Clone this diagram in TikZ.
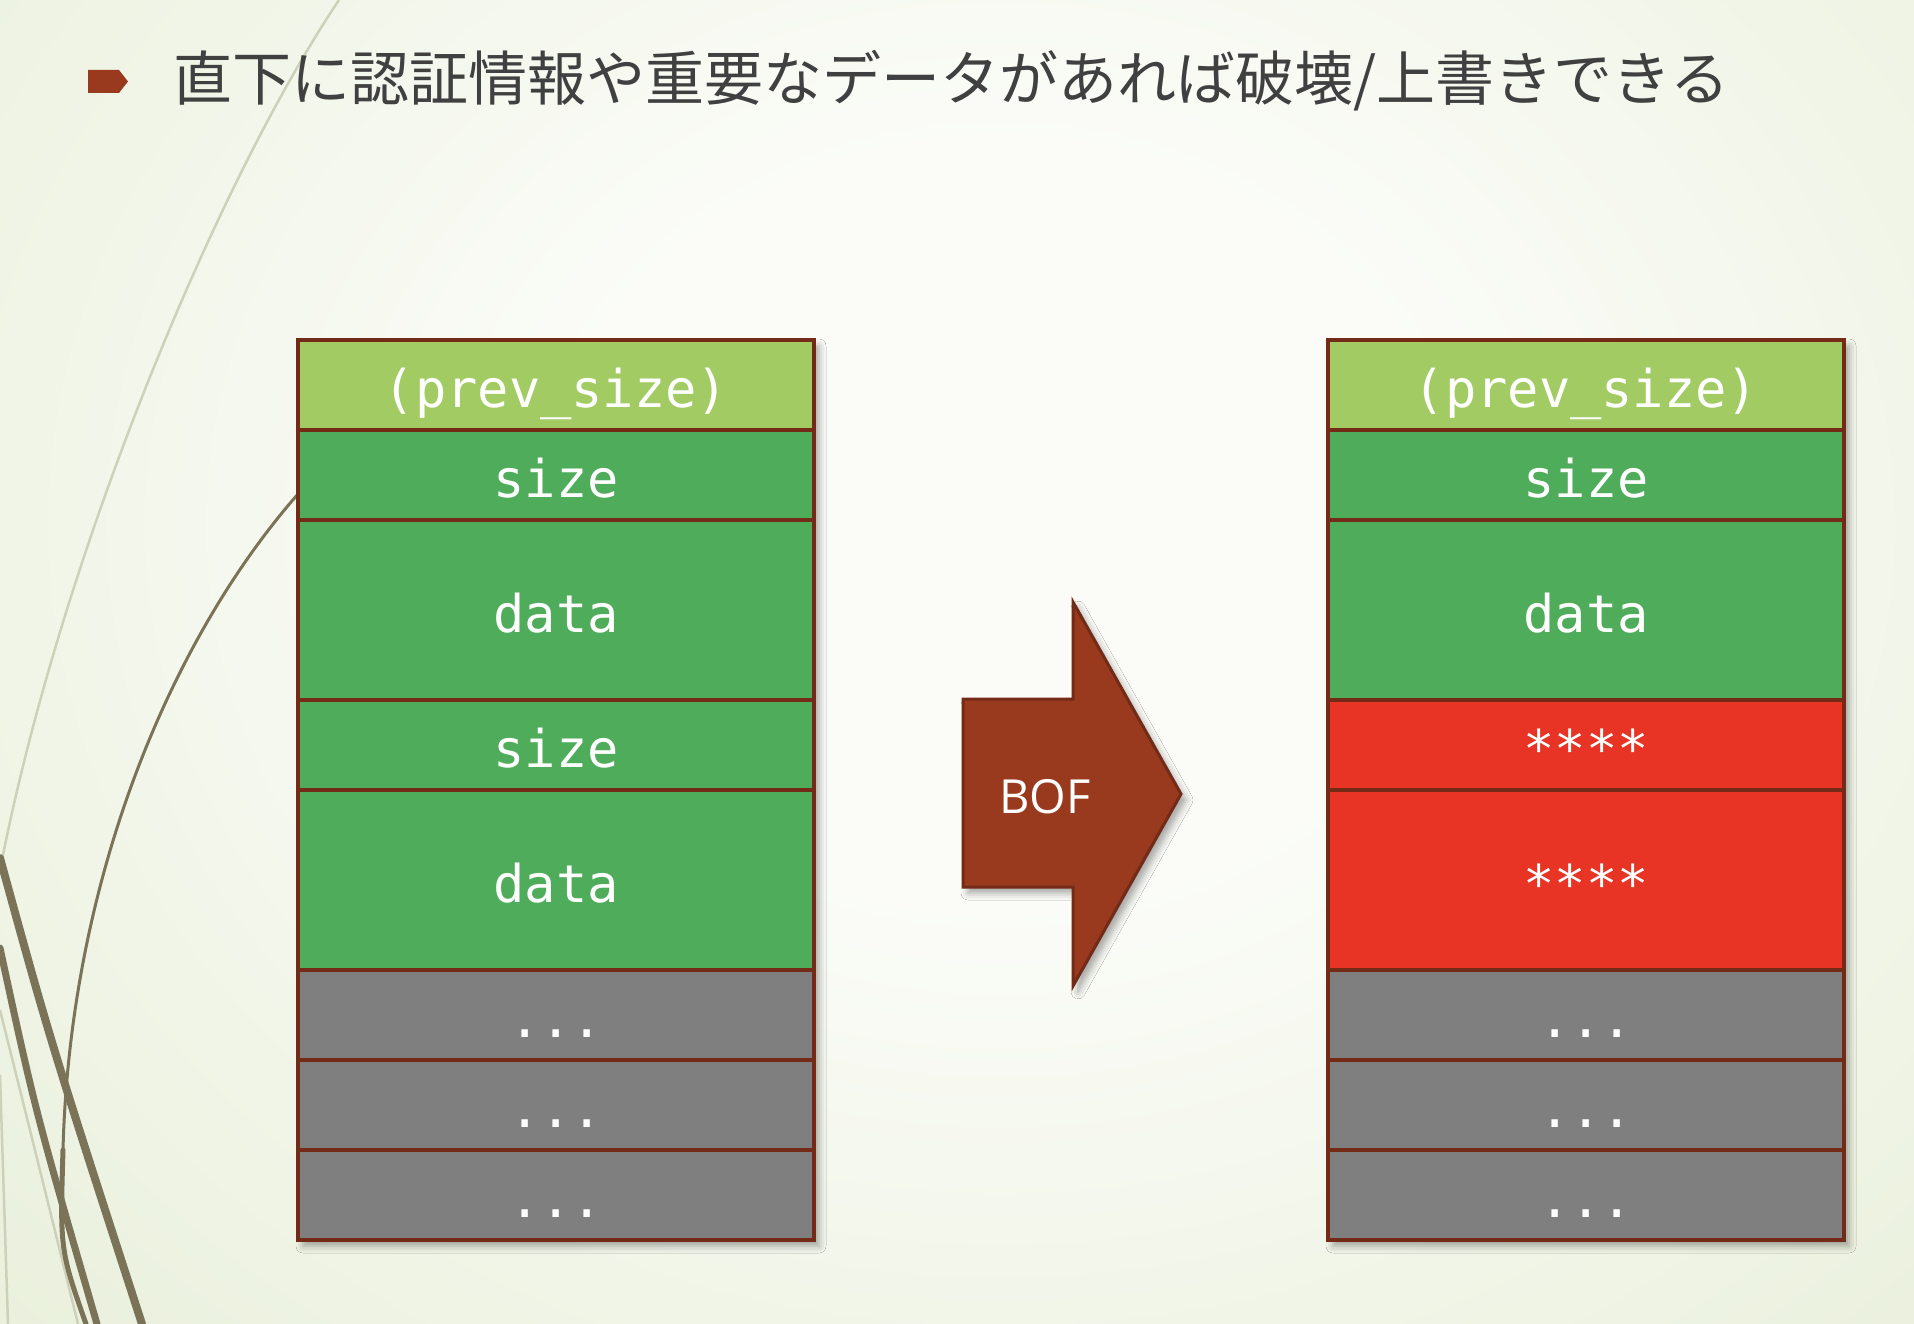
\documentclass[tikz,border=0pt]{standalone}
\usepackage{fontspec}
\usepackage{xcolor}
\usepackage{tikz}
\usetikzlibrary{positioning, calc, shadows, shadows.blur}
\setmonofont{DejaVu Sans Mono}
\newfontfamily\jpfont{Noto Sans CJK JP}
\newfontfamily\boffont{Open Sans}

\definecolor{bgin}{HTML}{FBFCF8}
\definecolor{bgout}{HTML}{DFE9CB}
\definecolor{cellline}{HTML}{732A17}
\definecolor{prevgreen}{HTML}{A2CC63}
\definecolor{chunkgreen}{HTML}{4FAC5B}
\definecolor{hitred}{HTML}{E83425}
\definecolor{restgray}{HTML}{7F7F7F}
\definecolor{bofbrown}{HTML}{993A1F}
\definecolor{titlegray}{HTML}{404040}
\definecolor{stemdark}{HTML}{7A7358}
\definecolor{stemlight}{HTML}{CDD1B9}

\pgfdeclareradialshading{slidebg}{\pgfpoint{0bp}{0bp}}{%
  color(0bp)=(bgin); color(10bp)=(bgin); color(44bp)=(bgout); color(80bp)=(bgout)}

\begin{document}
\begin{tikzpicture}[x=1pt, y=-1pt,
  cell/.style={rectangle, draw=cellline, line width=4pt, outer sep=0pt, inner sep=0pt,
               minimum width=516pt, minimum height=90pt, text=white,
               font=\fontsize{52}{60}\selectfont\ttfamily,
               text height=47pt, text depth=3pt},
  tall/.style={minimum height=180pt},
  colshadow/.style={blur shadow={shadow xshift=5pt, shadow yshift=-6pt,
                    shadow blur radius=7pt, shadow opacity=35}},
  stem/.style={draw=stemdark, line cap=round},
  faint/.style={draw=stemlight, line width=2.5pt}
]
  \useasboundingbox (0,0) rectangle (1914,1324);

  % slide background
  \begin{scope}
    \clip (0,0) rectangle (1914,1324);
    \shade[shading=slidebg] (-100,-400) rectangle (2100,1450);

    % decorative stems on the left
    \draw[faint] (339,0) .. controls (215,185) and (60,560) .. (0,870);
    \draw[faint] (0,1010) .. controls (30,1130) .. (78,1324);
    \draw[faint] (0,1075) .. controls (4,1200) .. (8,1324);
    \draw[stem, line width=3pt] (298,494) .. controls (170,640) and (70,880) .. (63,1150);
    \draw[stem, line width=5pt] (63,1150) .. controls (60,1250) .. (86,1324);
    \draw[stem, line width=8pt] (0,858) .. controls (50,1040) .. (142,1324);
    \draw[stem, line width=7pt] (0,948) .. controls (35,1110) .. (97,1324);
  \end{scope}

  % title line
  \fill[bofbrown] (88,70) -- (119,70) -- (128,81.5) -- (119,93) -- (88,93) -- cycle;
  \node[anchor=base west, inner sep=0pt, text=titlegray,
        font=\jpfont\fontsize{59}{70}\selectfont] (title) at (173,101)
        {直下に認証情報や重要なデータがあれば破壊/上書きできる};

  % left heap: before overflow
  \coordinate (lcol) at (298,340);
  \path[colshadow] (lcol) rectangle ++(516,900);
  \node[cell, fill=prevgreen, anchor=north west] (lprev) at (lcol) {(prev\_size)};
  \node[cell, fill=chunkgreen, below=0pt of lprev]        (lsize1) {size};
  \node[cell, fill=chunkgreen, tall, below=0pt of lsize1] (ldata1) {data};
  \node[cell, fill=chunkgreen, below=0pt of ldata1]       (lsize2) {size};
  \node[cell, fill=chunkgreen, tall, below=0pt of lsize2] (ldata2) {data};
  \node[cell, fill=restgray, below=0pt of ldata2]         (lrest1) {...};
  \node[cell, fill=restgray, below=0pt of lrest1]         (lrest2) {...};
  \node[cell, fill=restgray, below=0pt of lrest2]         (lrest3) {...};

  % BOF arrow
  \filldraw[fill=bofbrown, draw=cellline, line width=3pt, colshadow]
    (963,699) -- (1073,699) -- (1073,602) -- (1181,794) -- (1073,986)
    -- (1073,887) -- (963,887) -- cycle;
  \node[text=white, font=\boffont\fontsize{47}{56}\selectfont] (bof) at (1045,797) {BOF};

  % right heap: after overflow
  \coordinate (rcol) at (1328,340);
  \path[colshadow] (rcol) rectangle ++(516,900);
  \node[cell, fill=prevgreen, anchor=north west] (rprev) at (rcol) {(prev\_size)};
  \node[cell, fill=chunkgreen, below=0pt of rprev]        (rsize1) {size};
  \node[cell, fill=chunkgreen, tall, below=0pt of rsize1] (rdata1) {data};
  \node[cell, fill=hitred, below=0pt of rdata1]           (rhit1)  {****};
  \node[cell, fill=hitred, tall, below=0pt of rhit1]      (rhit2)  {****};
  \node[cell, fill=restgray, below=0pt of rhit2]          (rrest1) {...};
  \node[cell, fill=restgray, below=0pt of rrest1]         (rrest2) {...};
  \node[cell, fill=restgray, below=0pt of rrest2]         (rrest3) {...};
\end{tikzpicture}
\end{document}
